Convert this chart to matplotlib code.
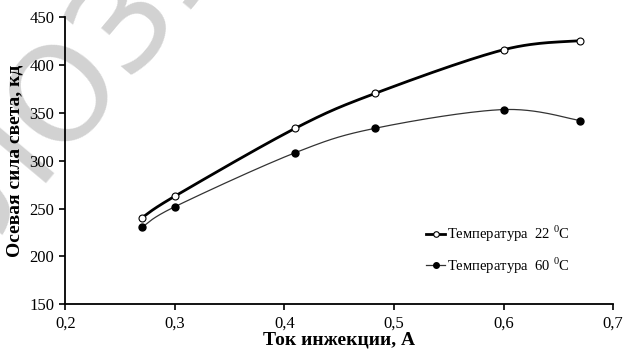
import numpy as np
import matplotlib
matplotlib.use("Agg")
import matplotlib.pyplot as plt
from matplotlib.ticker import FuncFormatter, MultipleLocator

# data
current = [0.27, 0.30, 0.41, 0.483, 0.60, 0.67]
t22 = [240.5, 263, 334, 370.5, 416, 425.5]
t60 = [230.5, 252, 308.5, 334, 353.5, 342]
label22 = "Температура  22 $^{\\mathrm{0}}$C"
label60 = "Температура  60 $^{\\mathrm{0}}$C"
xlabel = "Ток инжекции, А"
ylabel = "Осевая сила света, кд"

plt.rcParams['font.family'] = ['Liberation Serif', 'DejaVu Serif']
plt.rcParams['mathtext.fontset'] = 'custom'
plt.rcParams['mathtext.rm'] = 'Liberation Serif'


def smooth(x, y, n=30):
    x = np.asarray(x, float); y = np.asarray(y, float)
    P = np.column_stack([x, y])
    out = []
    for i in range(len(P) - 1):
        p0 = P[i - 1] if i > 0 else P[i]
        p1 = P[i]; p2 = P[i + 1]
        p3 = P[i + 2] if i + 2 < len(P) else P[i + 1]
        c1 = p1 + (p2 - p0) / 6.0
        c2 = p2 - (p3 - p1) / 6.0
        t = np.linspace(0, 1, n)[:, None]
        seg = (1 - t) ** 3 * p1 + 3 * (1 - t) ** 2 * t * c1 + 3 * (1 - t) * t ** 2 * c2 + t ** 3 * p2
        out.append(seg if i == 0 else seg[1:])
    s = np.vstack(out)
    return s[:, 0], s[:, 1]

fig = plt.figure(figsize=(6.25, 3.51), dpi=100)

# watermark (behind everything)
fig.text(0.14, 0.80, "ЛОЗУ", rotation=50, fontsize=95, color='#d2d2d2',
         family='DejaVu Sans', ha='center', va='center', zorder=-10)

ax = fig.add_axes([0.1045, 0.133, 0.8765, 0.818])
ax.set_zorder(1)

sx, sy = smooth(current, t22)
ax.plot(sx, sy, color='black', lw=2.0, zorder=3)
sx, sy = smooth(current, t60)
ax.plot(sx, sy, color='#333333', lw=0.9, zorder=3)
ax.plot(current, t22, 'o', ms=5, mfc='white', mec='black', mew=0.8, zorder=4)
ax.plot(current, t60, 'o', ms=5, mfc='black', mec='black', zorder=4)

# legend proxies
h1, = ax.plot([], [], '-o', color='black', lw=2.0, ms=4, mfc='white', mec='black', mew=0.8)
h2, = ax.plot([], [], '-o', color='#333333', lw=0.9, ms=4, mfc='black', mec='black')
ax.legend([h1, h2], [label22, label60], loc='upper left', bbox_to_anchor=(0.648, 0.30),
          frameon=False, fontsize=10.5, handlelength=1.3, handletextpad=0.1,
          labelspacing=0.75, borderaxespad=0)

ax.set_xlim(0.2, 0.7)
ax.set_ylim(150, 450)
ax.xaxis.set_major_locator(MultipleLocator(0.1))
ax.yaxis.set_major_locator(MultipleLocator(50))
ax.xaxis.set_major_formatter(FuncFormatter(lambda v, p: f"{v:.1f}".replace('.', ',')))
ax.yaxis.set_major_formatter(FuncFormatter(lambda v, p: f"{v:.0f}"))
for s in ['top', 'right']:
    ax.spines[s].set_visible(False)
for s in ['left', 'bottom']:
    ax.spines[s].set_linewidth(1.3)
ax.tick_params(direction='out', length=4, width=1.2, labelsize=12, pad=4)
ax.patch.set_alpha(0)
ax.set_xlabel(xlabel, fontsize=14, fontweight='bold', labelpad=0)
ax.set_ylabel(ylabel, fontsize=14, fontweight='bold', labelpad=4)

fig.savefig('out.png', dpi=100)
